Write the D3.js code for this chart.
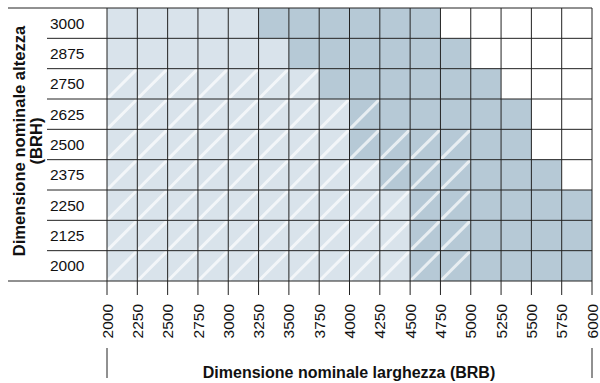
<!DOCTYPE html>
<html>
<head>
<meta charset="utf-8">
<script src="https://cdn.jsdelivr.net/npm/d3@7"></script>
<style>
  html, body { margin: 0; padding: 0; background: #fff; }
  svg { display: block; font-family: "Liberation Sans", Arial, Helvetica, sans-serif; }
</style>
</head>
<body>
<svg id="chart" width="600" height="383"></svg>
<script>
// Nominal widths (BRB) on the x axis, nominal heights (BRH) on the y axis
const widthTicks = [2000, 2250, 2500, 2750, 3000, 3250, 3500, 3750, 4000, 4250, 4500, 4750, 5000, 5250, 5500, 5750, 6000];
const heightRows = [3000, 2875, 2750, 2625, 2500, 2375, 2250, 2125, 2000];

// Per height row: upper width of the light zone, of the hatched zone and of the dark zone
const lightUpTo = [3250, 3500, 3750, 4000, 4000, 4250, 4500, 4500, 4500];
const hatchUpTo = [2000, 2000, 3750, 4250, 5000, 5000, 5000, 5000, 5000];
const darkUpTo  = [4750, 5000, 5250, 5500, 5500, 5750, 6000, 6000, 6000];

const xTitle = "Dimensione nominale larghezza (BRB)";
const yTitle = ["Dimensione nominale altezza", "(BRH)"];

const lightFill = "#d9e3eb";
const darkFill = "#b6c9d6";
const gridColor = "#222";

const svg = d3.select("#chart");

const x = d3.scaleLinear().domain([widthTicks[0], widthTicks[widthTicks.length - 1]]).range([107, 592]);
const y = d3.scaleBand().domain(heightRows).range([8, 281]).paddingInner(0).paddingOuter(0);

// Build the cell list from the zone limits
const cells = [];
heightRows.forEach((h, ri) => {
  for (let c = 0; c < widthTicks.length - 1; c++) {
    const w0 = widthTicks[c], w1 = widthTicks[c + 1];
    let fill = null;
    if (w1 <= lightUpTo[ri]) fill = lightFill;
    else if (w1 <= darkUpTo[ri]) fill = darkFill;
    const hatched = w1 <= hatchUpTo[ri];
    if (fill) cells.push({ h, w0, w1, fill, hatched });
  }
});

const cellG = svg.append("g");
cellG.selectAll("rect").data(cells).join("rect")
  .attr("x", d => x(d.w0))
  .attr("y", d => y(d.h))
  .attr("width", d => x(d.w1) - x(d.w0))
  .attr("height", y.bandwidth())
  .attr("fill", d => d.fill);

// Diagonal white stripes on hatched cells
cellG.selectAll("line").data(cells.filter(d => d.hatched)).join("line")
  .attr("x1", d => x(d.w0) + 0.5)
  .attr("y1", d => y(d.h) + y.bandwidth() - 0.5)
  .attr("x2", d => x(d.w1) - 0.5)
  .attr("y2", d => y(d.h) + 0.5)
  .attr("stroke", "#fff")
  .attr("stroke-opacity", 0.68)
  .attr("stroke-width", 3);

// Horizontal grid: outer lines span the label column, inner ones start at the labels
const gridG = svg.append("g").attr("stroke", gridColor).attr("stroke-width", 1);
const bounds = heightRows.map(h => y(h)).concat([y(heightRows[heightRows.length - 1]) + y.bandwidth()]);
gridG.selectAll("line.h").data(bounds).join("line")
  .attr("class", "h")
  .attr("x1", (d, i) => (i === 0 || i === bounds.length - 1) ? 8 : 47)
  .attr("x2", x.range()[1])
  .attr("y1", d => d).attr("y2", d => d);

// Vertical grid lines run past the bottom edge as tick marks
gridG.selectAll("line.v").data(widthTicks).join("line")
  .attr("class", "v")
  .attr("x1", d => x(d)).attr("x2", d => x(d))
  .attr("y1", 8).attr("y2", 295);

// Row labels
svg.append("g").selectAll("text").data(heightRows).join("text")
  .attr("x", 50)
  .attr("y", d => y(d) + y.bandwidth() / 2)
  .attr("dy", "0.36em")
  .attr("font-size", 15.5)
  .attr("fill", "#111")
  .text(d => d);

// Rotated column tick labels
svg.append("g").selectAll("text").data(widthTicks).join("text")
  .attr("transform", d => `translate(${x(d)},304) rotate(-90)`)
  .attr("text-anchor", "end")
  .attr("dy", "0.36em")
  .attr("font-size", 15.5)
  .attr("fill", "#111")
  .text(d => d);

// Range markers under the axis at both ends
svg.append("g").attr("stroke", gridColor).selectAll("line")
  .data([widthTicks[0], widthTicks[widthTicks.length - 1]]).join("line")
  .attr("x1", d => x(d)).attr("x2", d => x(d))
  .attr("y1", 348).attr("y2", 378);

// Axis titles
svg.append("text")
  .attr("x", 349)
  .attr("y", 378)
  .attr("text-anchor", "middle")
  .attr("font-size", 16)
  .attr("font-weight", "bold")
  .attr("fill", "#111")
  .text(xTitle);

const yt = svg.append("text")
  .attr("transform", "translate(0,141) rotate(-90)")
  .attr("text-anchor", "middle")
  .attr("font-size", 16.6)
  .attr("font-weight", "bold")
  .attr("fill", "#111");
yt.append("tspan").attr("x", 0).attr("y", 25).text(yTitle[0]);
yt.append("tspan").attr("x", 0).attr("y", 42).text(yTitle[1]);
</script>
</body>
</html>
